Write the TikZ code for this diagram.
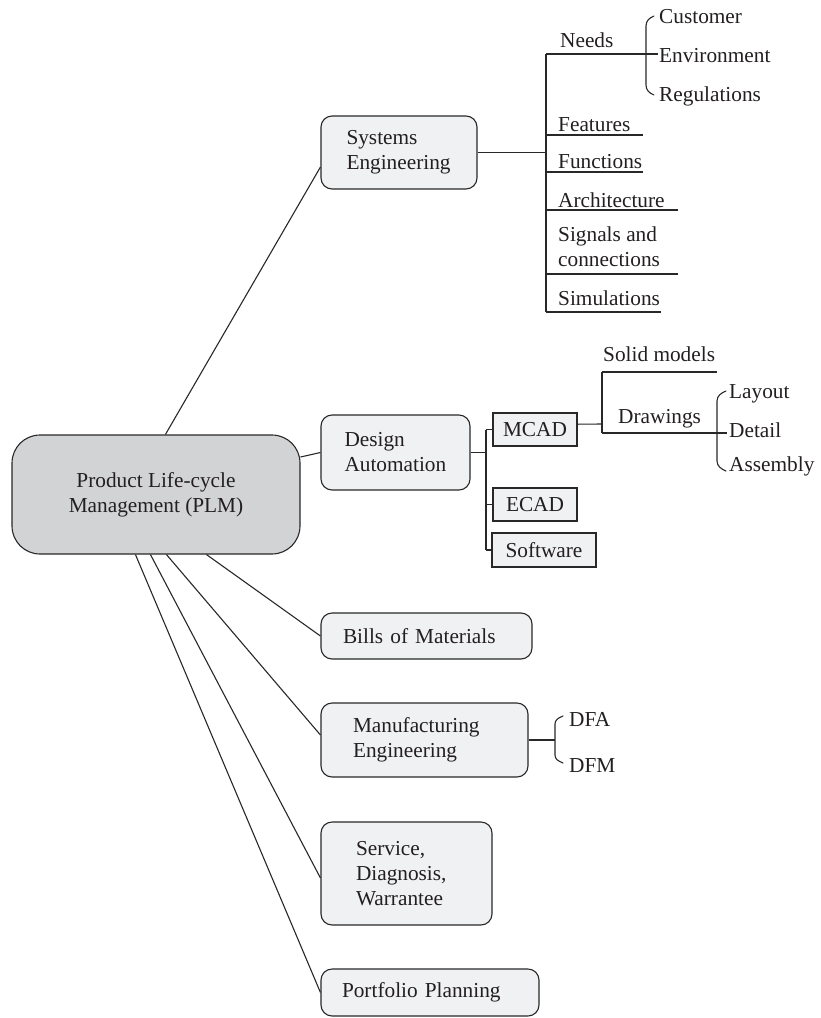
\documentclass[tikz,border=0pt]{standalone}
\usepackage{fontspec}
\setmainfont{Liberation Serif}
\definecolor{linec}{RGB}{40,40,40}
\definecolor{boxfill}{RGB}{240,241,243}
\definecolor{plmfill}{RGB}{210,211,213}
\definecolor{txt}{RGB}{35,31,32}
\begin{document}
\begin{tikzpicture}[x=1pt,y=-1pt,
  font=\fontsize{21.3}{25}\selectfont, text=txt,
  ln/.style={draw=linec,line width=1.1pt},
  box/.style={ln,fill=boxfill,rounded corners=11pt,inner ysep=0pt,align=left},
  plmbox/.style={ln,fill=plmfill,rounded corners=28pt,inner sep=0pt,align=center},
  sqbox/.style={ln,fill=boxfill,inner sep=0pt,align=center},
  lbl/.style={anchor=base west,inner sep=0pt},
  brace/.style={ln,line cap=round}
]
\useasboundingbox (0,0) rectangle (821,1018);

% main boxes
\node[plmbox, minimum width=288pt, minimum height=119pt] (plm) at (156,494.5) {Product Life-cycle\\Management (PLM)};
\node[box, minimum height=73pt, text width=105pt, inner xsep=25.5pt] (se) at (399,152.5) {Systems\\Engineering};
\node[box, minimum height=75pt, text width=102pt, inner xsep=23.5pt] (da) at (395.5,452.5) {Design\\Automation};
\node[box, minimum height=46pt, text width=167pt, inner xsep=22pt] (bom) at (426.5,636) {Bills of Materials};
\node[box, minimum height=74pt, text width=143pt, inner xsep=32pt] (man) at (424.5,740) {Manufacturing\\Engineering};
\node[box, minimum height=103pt, text width=101pt, inner xsep=35pt] (srv) at (406.5,873.5) {Service,\\Diagnosis,\\Warrantee};
\node[box, minimum height=47pt, text width=176pt, inner xsep=21pt] (pp) at (430,992.5) {Portfolio Planning};

% design automation sub boxes
\node[sqbox, minimum width=84pt, minimum height=33pt] (mcad) at (535,429.5) {MCAD};
\node[sqbox, minimum width=84pt, minimum height=33pt] (ecad) at (535,504.5) {ECAD};
\node[sqbox, minimum width=104pt, minimum height=34pt] (sw) at (544,550) {Software};

% PLM connectors
\draw[ln] ([xshift=154pt]plm.north west) -- ([yshift=-14.5pt]se.west);
\draw[ln] ([yshift=37.5pt]plm.east) -- (da.west);
\draw[ln] ([xshift=195pt]plm.south west) -- (bom.west);
\draw[ln] ([xshift=155pt]plm.south west) -- ([yshift=5pt]man.west);
\draw[ln] ([xshift=139pt]plm.south west) -- ([yshift=-4.5pt]srv.west);
\draw[ln] ([xshift=124pt]plm.south west) -- (pp.west);

% Systems engineering tree
\coordinate (sej) at (546,152.5);
\coordinate (set) at (546,54);
\coordinate (seb) at (546,312);
\draw[ln] (se.east) -- (sej);
\draw[ln] (set) -- (seb);
\node[lbl] (needs) at (560,47) {Needs};
\node[lbl] (feat) at (558,131) {Features};
\node[lbl] (func) at (558,168) {Functions};
\node[lbl] (arch) at (558,207) {Architecture};
\node[anchor=west,inner sep=0pt,align=left] (sig) at (558,246.3) {Signals and\\connections};
\node[lbl] (sim) at (558,305) {Simulations};
\draw[ln] (set) -- (658,54);
\draw[ln] (546,135) -- (643,135);
\draw[ln] (546,172) -- (643,172);
\draw[ln] (546,210) -- (678,210);
\draw[ln] (546,274) -- (678,274);
\draw[ln] (seb) -- (661,312);
\node[lbl] (cust) at (659,23) {Customer};
\node[lbl] (env) at (659,62) {Environment};
\node[lbl] (reg) at (659,101) {Regulations};
\draw[brace] (654,16) .. controls (649,18) and (646,21) .. (646,26) -- (646,85) .. controls (646,90) and (649,93) .. (654,95);

% Design automation tree
\coordinate (daj) at (486,452.5);
\draw[ln] (da.east) -- (daj);
\draw[ln] (486,429.5) -- (486,550);
\draw[ln] (486,429.5) -- (mcad.west);
\draw[ln] (486,504.5) -- (ecad.west);
\draw[ln] (486,550) -- (sw.west);
\coordinate (mj) at (602,424);
\draw[ln] ([yshift=5.3pt]mcad.east) -- (mj);
\draw[ln] (602,372) -- (602,433);
\draw[ln] (602,372) -- (717,372);
\draw[ln] (602,433) -- (727,433);
\node[lbl] (solid) at (603,361) {Solid models};
\node[lbl] (draw) at (618,423) {Drawings};
\node[lbl] (lay) at (729,398) {Layout};
\node[lbl] (det) at (729,437) {Detail};
\node[lbl] (asm) at (729,471) {Assembly};
\draw[brace] (726,391) .. controls (721,393) and (717,396) .. (717,401) -- (717,461) .. controls (717,466) and (721,469) .. (726,471);

% Manufacturing tree
\coordinate (mfj) at (555,740);
\draw[ln] (man.east) -- (mfj);
\draw[brace] (563,716) .. controls (558,718) and (555,720) .. (555,724) -- (555,755) .. controls (555,759) and (558,761) .. (563,763);
\node[lbl] (dfa) at (569,726) {DFA};
\node[lbl] (dfm) at (569,772) {DFM};
\end{tikzpicture}
\end{document}
